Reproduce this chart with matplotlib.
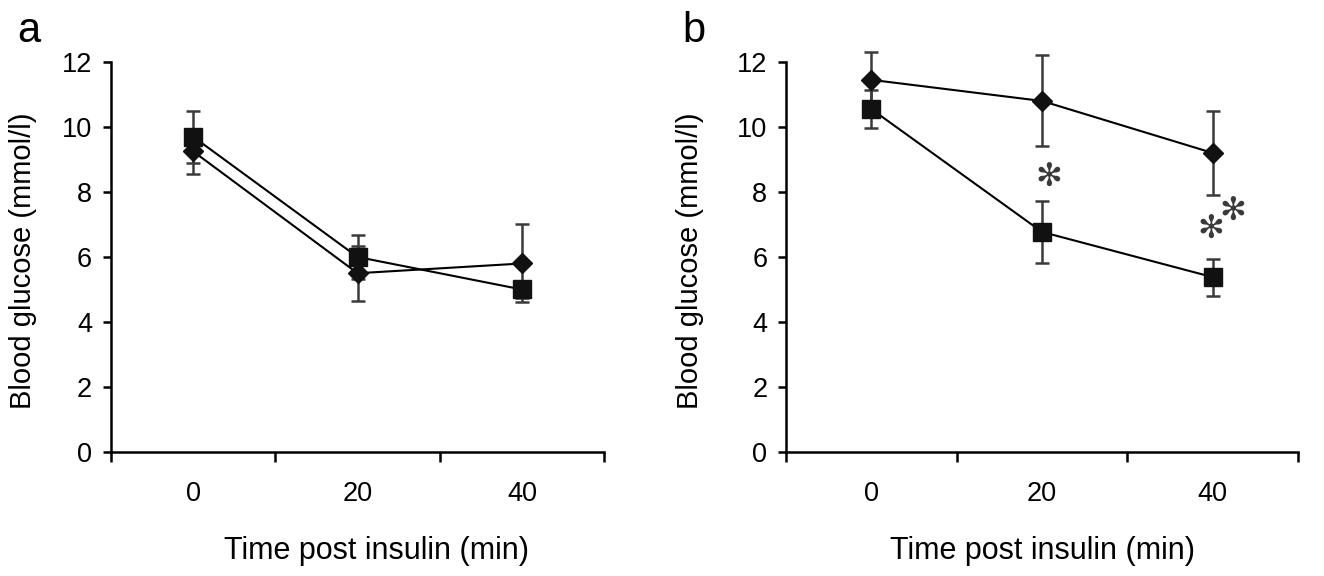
import matplotlib
matplotlib.use("Agg")
import numpy as np
import matplotlib.pyplot as plt

plt.rcParams['font.family'] = ['Liberation Sans', 'DejaVu Sans']

# x categories (minutes after insulin)
time_labels = ["0", "20", "40"]

# panel a
a_square = [9.7, 6.0, 5.0]
a_square_err = [0.8, 0.68, 0.25]
a_diamond = [9.25, 5.5, 5.8]
a_diamond_err = [0.7, 0.85, 1.2]

# panel b
b_square = [10.55, 6.77, 5.38]
b_square_err = [0.58, 0.95, 0.57]
b_diamond = [11.45, 10.8, 9.2]
b_diamond_err = [0.85, 1.4, 1.3]

# significance marks in panel b: (category position, y)
b_stars = [(1.04, 8.45), (1.99, 6.85), (2.12, 7.4)]

fig = plt.figure(figsize=(13.24, 5.76), dpi=100)
ax_a = fig.add_axes([0.0838, 0.2153, 0.3725, 0.6771])
ax_b = fig.add_axes([0.5937, 0.2153, 0.3867, 0.6771])

xpos = np.arange(len(time_labels)) + 0.5


def draw_panel(ax, sq, sq_err, dm, dm_err):
    for vals, err in [(sq, sq_err), (dm, dm_err)]:
        _, caps, bars = ax.errorbar(xpos, vals, yerr=err, fmt='none', ecolor='#3a3a3a',
                                    elinewidth=1.8, capsize=5, capthick=1.8, zorder=1)
        for c in caps:
            c.set_clip_on(False)
        for b in bars:
            b.set_clip_on(False)
    ax.plot(xpos, sq, color='black', lw=1.5, marker='s', ms=13.5,
            mfc='#111111', mec='#111111', zorder=3, clip_on=False)
    ax.plot(xpos, dm, color='black', lw=1.5, marker='D', ms=10.5,
            mfc='#111111', mec='#111111', zorder=3, clip_on=False)

    ax.set_xlim(0, 3)
    ax.set_ylim(0, 12)
    ax.set_yticks(np.arange(0, 13, 2))
    ax.set_xticks([0, 1, 2, 3])
    ax.set_xticklabels([])
    ax.set_xticks(xpos, minor=True)
    ax.set_xticklabels(time_labels, minor=True)
    ax.tick_params(axis='x', which='minor', length=0, pad=21, labelsize=19.5)
    ax.tick_params(axis='x', which='major', length=7, width=1.8)
    ax.tick_params(axis='y', length=6, width=1.8, pad=7.5, labelsize=19.5)

    for s in ['top', 'right']:
        ax.spines[s].set_visible(False)
    for s in ['left', 'bottom']:
        ax.spines[s].set_linewidth(1.8)

    ax.set_ylabel('Blood glucose (mmol/l)', fontsize=21)
    ax.set_xlabel('Time post insulin (min)', fontsize=22)


draw_panel(ax_a, a_square, a_square_err, a_diamond, a_diamond_err)
draw_panel(ax_b, b_square, b_square_err, b_diamond, b_diamond_err)

ax_a.yaxis.set_label_coords(-0.150, 0.49)
ax_b.yaxis.set_label_coords(-0.16, 0.49)
ax_a.xaxis.set_label_coords(0.5375, -0.215)
ax_b.xaxis.set_label_coords(0.50, -0.215)

for xs, ys in b_stars:
    ax_b.text(xs + 0.5, ys, '\u273b', ha='center', va='center',
              fontsize=23, color='#3a3a3a', family=['DejaVu Sans'])

fig.text(17 / 1324, 1 - 42 / 576, 'a', fontsize=30, va='baseline')
fig.text(682 / 1324, 1 - 42 / 576, 'b', fontsize=30, va='baseline')

fig.savefig('out.png', dpi=100)
